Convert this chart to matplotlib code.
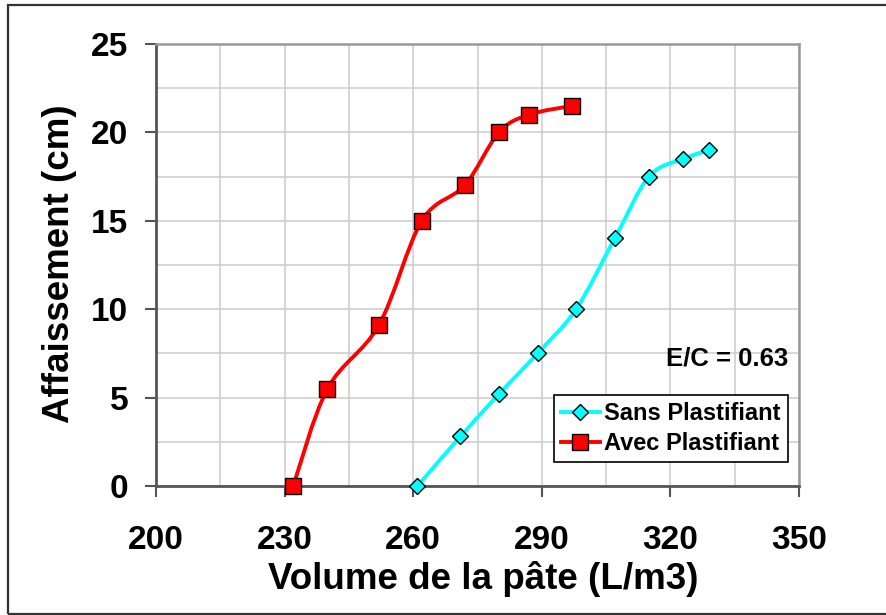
import matplotlib
matplotlib.use("Agg")
import matplotlib.pyplot as plt
import numpy as np
from matplotlib.path import Path
from matplotlib.patches import PathPatch, Rectangle
from matplotlib.lines import Line2D

plt.rcParams['font.family'] = ['Liberation Sans', 'DejaVu Sans']
plt.rcParams['font.weight'] = 'bold'

# Sans Plastifiant
vol_sans = [261, 271, 280, 289, 298, 307, 315, 323, 329]
aff_sans = [0, 2.8, 5.2, 7.5, 10, 14, 17.5, 18.5, 19]

# Avec Plastifiant
vol_avec = [232, 240, 252, 262, 272, 280, 287, 297]
aff_avec = [0, 5.5, 9.1, 15, 17, 20, 21, 21.5]

labels = ["Sans Plastifiant", "Avec Plastifiant"]
note = "E/C = 0.63"


def smooth_path(x, y):
    # excel-like smoothed line: bezier through the points
    pts = np.column_stack([x, y]).astype(float)
    n = len(pts)
    verts = [pts[0]]
    codes = [Path.MOVETO]
    for i in range(n - 1):
        p0 = pts[max(i - 1, 0)]
        p1 = pts[i]
        p2 = pts[i + 1]
        p3 = pts[min(i + 2, n - 1)]
        verts += [p1 + (p2 - p0) / 6, p2 - (p3 - p1) / 6, p2]
        codes += [Path.CURVE4] * 3
    return Path(verts, codes)


fig = plt.figure(figsize=(8.86, 6.15), dpi=100)
ax = fig.add_axes([156/886, 1-486/615, 643/886, 442/615])

ax.set_xlim(200, 350)
ax.set_ylim(0, 25)
ax.set_xticks(np.arange(200, 351, 30))
ax.set_xticks(np.arange(200, 351, 15), minor=True)
ax.set_yticks(np.arange(0, 26, 5))
ax.set_yticks(np.arange(0, 26, 2.5), minor=True)
ax.grid(True, which='both', color='#cccccc', lw=1.1, zorder=0)
ax.set_axisbelow(True)

ax.tick_params(axis='both', which='major', direction='out', length=8,
               width=1.5, color='#555555', labelsize=24)
ax.tick_params(axis='x', which='major', pad=20)
ax.tick_params(axis='y', which='major', pad=12)
ax.tick_params(which='minor', length=0)

for s in ['left', 'bottom']:
    ax.spines[s].set_color('#555555')
    ax.spines[s].set_linewidth(2)
for s in ['top', 'right']:
    ax.spines[s].set_color('#999999')
    ax.spines[s].set_linewidth(1.8)

ax.add_patch(PathPatch(smooth_path(vol_sans, aff_sans), fill=False,
                       edgecolor='#00ffff', lw=2.8, zorder=3))
ax.add_patch(PathPatch(smooth_path(vol_avec, aff_avec), fill=False,
                       edgecolor='#ff0000', lw=2.8, zorder=3))
ax.plot(vol_sans, aff_sans, ls='none', marker='D', ms=8.5, mfc='#00ffff',
        mec='black', mew=1, zorder=4, clip_on=False)
ax.plot(vol_avec, aff_avec, ls='none', marker='s', ms=11, mfc='#ff0000',
        mec='black', mew=1, zorder=4, clip_on=False)

ax.set_xlabel("Volume de la pâte (L/m3)", fontsize=26.5, fontweight='bold')
ax.set_ylabel("Affaissement (cm)", fontsize=26.5, fontweight='bold')
ax.xaxis.set_label_coords(0.509, -0.17)
ax.yaxis.set_label_coords(-0.123, 0.502)

ax.text(0.983, 0.288, note, transform=ax.transAxes, ha='right', va='center',
        fontsize=18.5, fontweight='bold')

handles = [
    Line2D([], [], color='#00ffff', lw=2.8, marker='D', ms=8.5,
           mfc='#00ffff', mec='black', mew=1),
    Line2D([], [], color='#ff0000', lw=2.8, marker='s', ms=11,
           mfc='#ff0000', mec='black', mew=1),
]
leg = ax.legend(handles, labels, loc='lower right', bbox_to_anchor=(0.983, 0.054),
                borderaxespad=0, fontsize=17, frameon=True, fancybox=False,
                edgecolor='black', framealpha=1, borderpad=0.3,
                labelspacing=0.3, handlelength=1.65, handletextpad=0.2)
leg.get_frame().set_linewidth(1.2)
leg.set_zorder(5)

fig.patches.append(Rectangle((8/886, 1-614/615), 1.0, 609/615,
                             transform=fig.transFigure, fill=False,
                             edgecolor='#333333', lw=1.6, clip_on=False))

fig.savefig("out.png", dpi=100)
